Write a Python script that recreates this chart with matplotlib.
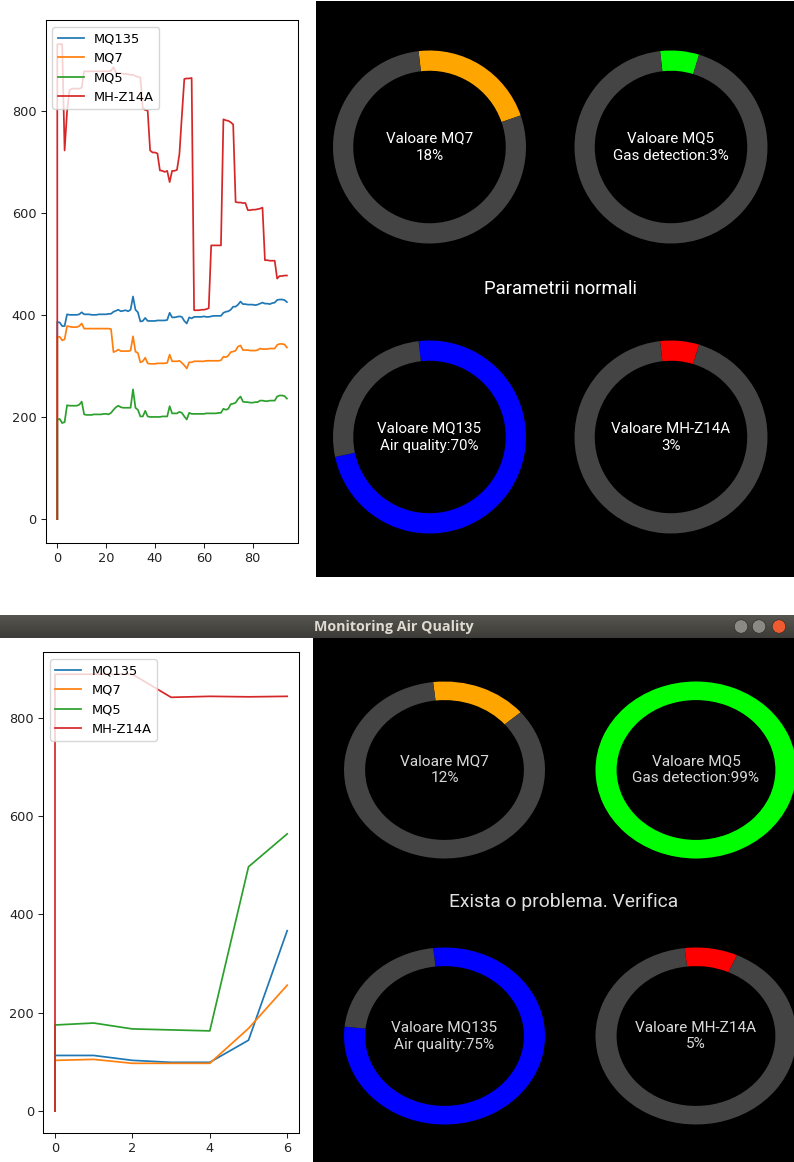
import numpy as np
import matplotlib
matplotlib.use('Agg')
import matplotlib.pyplot as plt
from matplotlib.colors import LinearSegmentedColormap

W, H = 794, 1162

# ---- first run: 95 samples (plus the initial zero reading) ----
run1_x = [0] + list(range(95))
run1_mq135 = [0,
    386, 385, 378, 378, 401, 400, 400, 400, 400, 401,
    405, 401, 401, 401, 400, 400, 400, 401, 401, 401,
    401, 402, 402, 406, 408, 410, 407, 408, 409, 407,
    410, 436, 410, 405, 387, 388, 394, 388, 388, 388,
    388, 389, 389, 389, 389, 390, 404, 395, 395, 396,
    397, 396, 388, 383, 395, 393, 396, 396, 396, 396,
    397, 396, 396, 397, 398, 398, 398, 398, 404, 406,
    407, 410, 416, 416, 420, 426, 421, 421, 420, 420,
    420, 419, 420, 422, 424, 422, 422, 421, 423, 424,
    429, 430, 430, 429, 425]
run1_mq7 = [0,
    357, 357, 350, 352, 378, 377, 376, 376, 376, 378,
    383, 373, 373, 373, 373, 373, 373, 373, 373, 373,
    373, 373, 372, 327, 329, 332, 329, 329, 329, 329,
    330, 358, 328, 325, 307, 309, 316, 305, 304, 304,
    304, 305, 305, 305, 305, 306, 322, 309, 309, 309,
    310, 306, 301, 295, 307, 307, 309, 309, 309, 309,
    309, 310, 310, 310, 310, 310, 310, 311, 318, 317,
    320, 327, 328, 330, 338, 340, 331, 331, 331, 330,
    330, 330, 331, 334, 333, 333, 333, 334, 334, 334,
    341, 343, 343, 342, 336]
run1_mq5 = [0,
    195, 196, 188, 190, 223, 222, 222, 222, 222, 224,
    230, 205, 204, 204, 204, 205, 205, 205, 205, 206,
    206, 205, 208, 214, 219, 222, 219, 218, 218, 218,
    218, 254, 218, 214, 201, 201, 212, 201, 200, 200,
    200, 200, 200, 201, 201, 201, 221, 207, 207, 207,
    210, 208, 201, 195, 208, 206, 206, 206, 206, 206,
    206, 207, 207, 207, 207, 207, 208, 208, 216, 214,
    216, 225, 226, 228, 235, 240, 230, 229, 229, 228,
    228, 229, 229, 232, 232, 231, 231, 232, 232, 232,
    240, 242, 242, 241, 236]
run1_mhz14a = [0,
    930, 930, 930, 722, 798, 840, 843, 843, 843, 843,
    845, 877, 877, 877, 877, 877, 877, 877, 877, 877,
    877, 877, 878, 885, 875, 873, 873, 872, 872, 871,
    870, 870, 868, 866, 865, 805, 801, 800, 722, 718,
    718, 716, 683, 682, 680, 682, 660, 682, 682, 684,
    715, 790, 862, 863, 863, 864, 409, 409, 409, 410,
    410, 411, 413, 536, 536, 536, 536, 536, 783, 781,
    780, 777, 773, 621, 620, 620, 619, 619, 605, 605,
    606, 606, 607, 608, 610, 507, 507, 506, 506, 506,
    471, 476, 476, 477, 477]

# ---- second run: 7 samples ----
run2_x = [0, 0, 1, 2, 3, 4, 5, 6]
run2_mq135 = [0, 113, 113, 103, 99, 99, 144, 367]
run2_mq7 = [0, 103, 105, 97, 97, 97, 168, 256]
run2_mq5 = [0, 175, 179, 167, 165, 163, 497, 564]
run2_mhz14a = [0, 889, 889, 889, 842, 844, 843, 844]

series_names = ['MQ135', 'MQ7', 'MQ5', 'MH-Z14A']

# gauge readings (percent) for each screen
gauge_titles = ['Valoare MQ7', 'Valoare MQ5', 'Valoare MQ135', 'Valoare MH-Z14A']
gauge_prefix = ['', 'Gas detection:', 'Air quality:', '']
gauge_colors = ['#FFA500', '#00FF00', '#0000FF', '#FF0000']
run1_gauges = [18, 3, 70, 3]
run2_gauges = [12, 99, 75, 5]
run1_status = 'Parametrii normali'
run2_status = 'Exista o problema. Verifica'
window_title = 'Monitoring Air Quality'

RING = '#444444'
ARC_PAD = 3.5      # arc drawn a bit longer than the value, like the app does
ARC_START = 96.5   # arc starts slightly left of 12 o'clock


def px_axes(fig, x0, y0, x1, y1):
    """axes from pixel box (top-left origin)"""
    return fig.add_axes([x0 / W, 1 - y1 / H, (x1 - x0) / W, (y1 - y0) / H])


def line_chart(fig, box, x, ys):
    ax = px_axes(fig, *box)
    for y, name in zip(ys, series_names):
        ax.plot(x, y, lw=1.25, label=name)
    ax.legend(loc='upper left', fontsize=9.4, handlelength=2.0)
    ax.tick_params(labelsize=9.3, length=3.3, width=0.75, colors='#222222')
    for s in ax.spines.values():
        s.set_linewidth(0.75)
    return ax


def panel(fig, box, color='black'):
    ax = px_axes(fig, *box)
    ax.set_facecolor(color)
    ax.set_xticks([])
    ax.set_yticks([])
    for s in ax.spines.values():
        s.set_visible(False)
    ax.set_xlim(box[0], box[2])
    ax.set_ylim(box[3], box[1])
    return ax


def gauge(fig, pax, cx, cy, rx, ry, pct, color, title, prefix, tcolor, fs):
    ax = px_axes(fig, cx - rx, cy - ry, cx + rx, cy + ry)
    fill = min(pct + ARC_PAD, 100)
    ax.pie([fill, 100 - fill], colors=[color, RING], startangle=ARC_START,
           counterclock=False, radius=1,
           wedgeprops=dict(width=0.21, edgecolor='none', linewidth=0))
    ax.set_aspect('auto')
    ax.set_xlim(-1, 1)
    ax.set_ylim(-1, 1)
    ax.set_axis_off()
    pax.text(cx, cy - 8.5, title, ha='center', va='center', color=tcolor,
             fontsize=fs, family='Roboto')
    pax.text(cx, cy + 8.5, f'{prefix}{pct}%', ha='center', va='center',
             color=tcolor, fontsize=fs, family='Roboto')


fig = plt.figure(figsize=(W / 100, H / 100), dpi=100)
fig.patch.set_facecolor('white')

# ---------------- top screen ----------------
line_chart(fig, (45.8, 20.5, 298.4, 542.8), run1_x,
           [run1_mq135, run1_mq7, run1_mq5, run1_mhz14a])

p1 = panel(fig, (316, 1, 794, 577))
centers1 = [(429.5, 147), (671, 147), (429.5, 437), (671, 437)]
for (cx, cy), pct, col, t, pre in zip(centers1, run1_gauges, gauge_colors,
                                      gauge_titles, gauge_prefix):
    gauge(fig, p1, cx, cy, 96.5, 96.5, pct, col, t, pre, 'white', 10.9)
p1.text(561, 289, run1_status, ha='center', va='center', color='white',
        fontsize=13.4, family='Roboto')

# ---------------- bottom screen (window) ----------------
bar = px_axes(fig, 0, 615, 794, 638)
grad = LinearSegmentedColormap.from_list('bar', ['#57554f', '#3c3b37'])
bar.imshow(np.linspace(0, 1, 32).reshape(-1, 1), cmap=grad, aspect='auto',
           extent=(0, 794, 638, 615))
bar.set_xlim(0, 794)
bar.set_ylim(638, 615)
bar.set_axis_off()
bar.text(394, 626.5, window_title, ha='center', va='center', color='#dfdbd2',
         fontsize=10.3, fontweight='bold', family='Open Sans')
btn_x = [741, 759, 779]
btn_c = ['#8a8984', '#8a8984', '#ef5b30']
bar.scatter(btn_x, [626.5] * 3, s=95, c=btn_c, edgecolors='#2f2e2b',
            linewidths=0.5, zorder=3)

line_chart(fig, (43.4, 652.4, 298.8, 1132.8), run2_x,
           [run2_mq135, run2_mq7, run2_mq5, run2_mhz14a])

p2 = panel(fig, (313, 638, 794, 1162))
centers2 = [(444.5, 770), (696, 770), (444.5, 1036), (696, 1036)]
for (cx, cy), pct, col, t, pre in zip(centers2, run2_gauges, gauge_colors,
                                      gauge_titles, gauge_prefix):
    gauge(fig, p2, cx, cy, 100.5, 88.5, pct, col, t, pre, '#d9d9d9', 11.1)
p2.text(564, 902, run2_status, ha='center', va='center', color='#e0e0e0',
        fontsize=13.9, family='Roboto')

fig.savefig('out.png', dpi=100, facecolor='white')
